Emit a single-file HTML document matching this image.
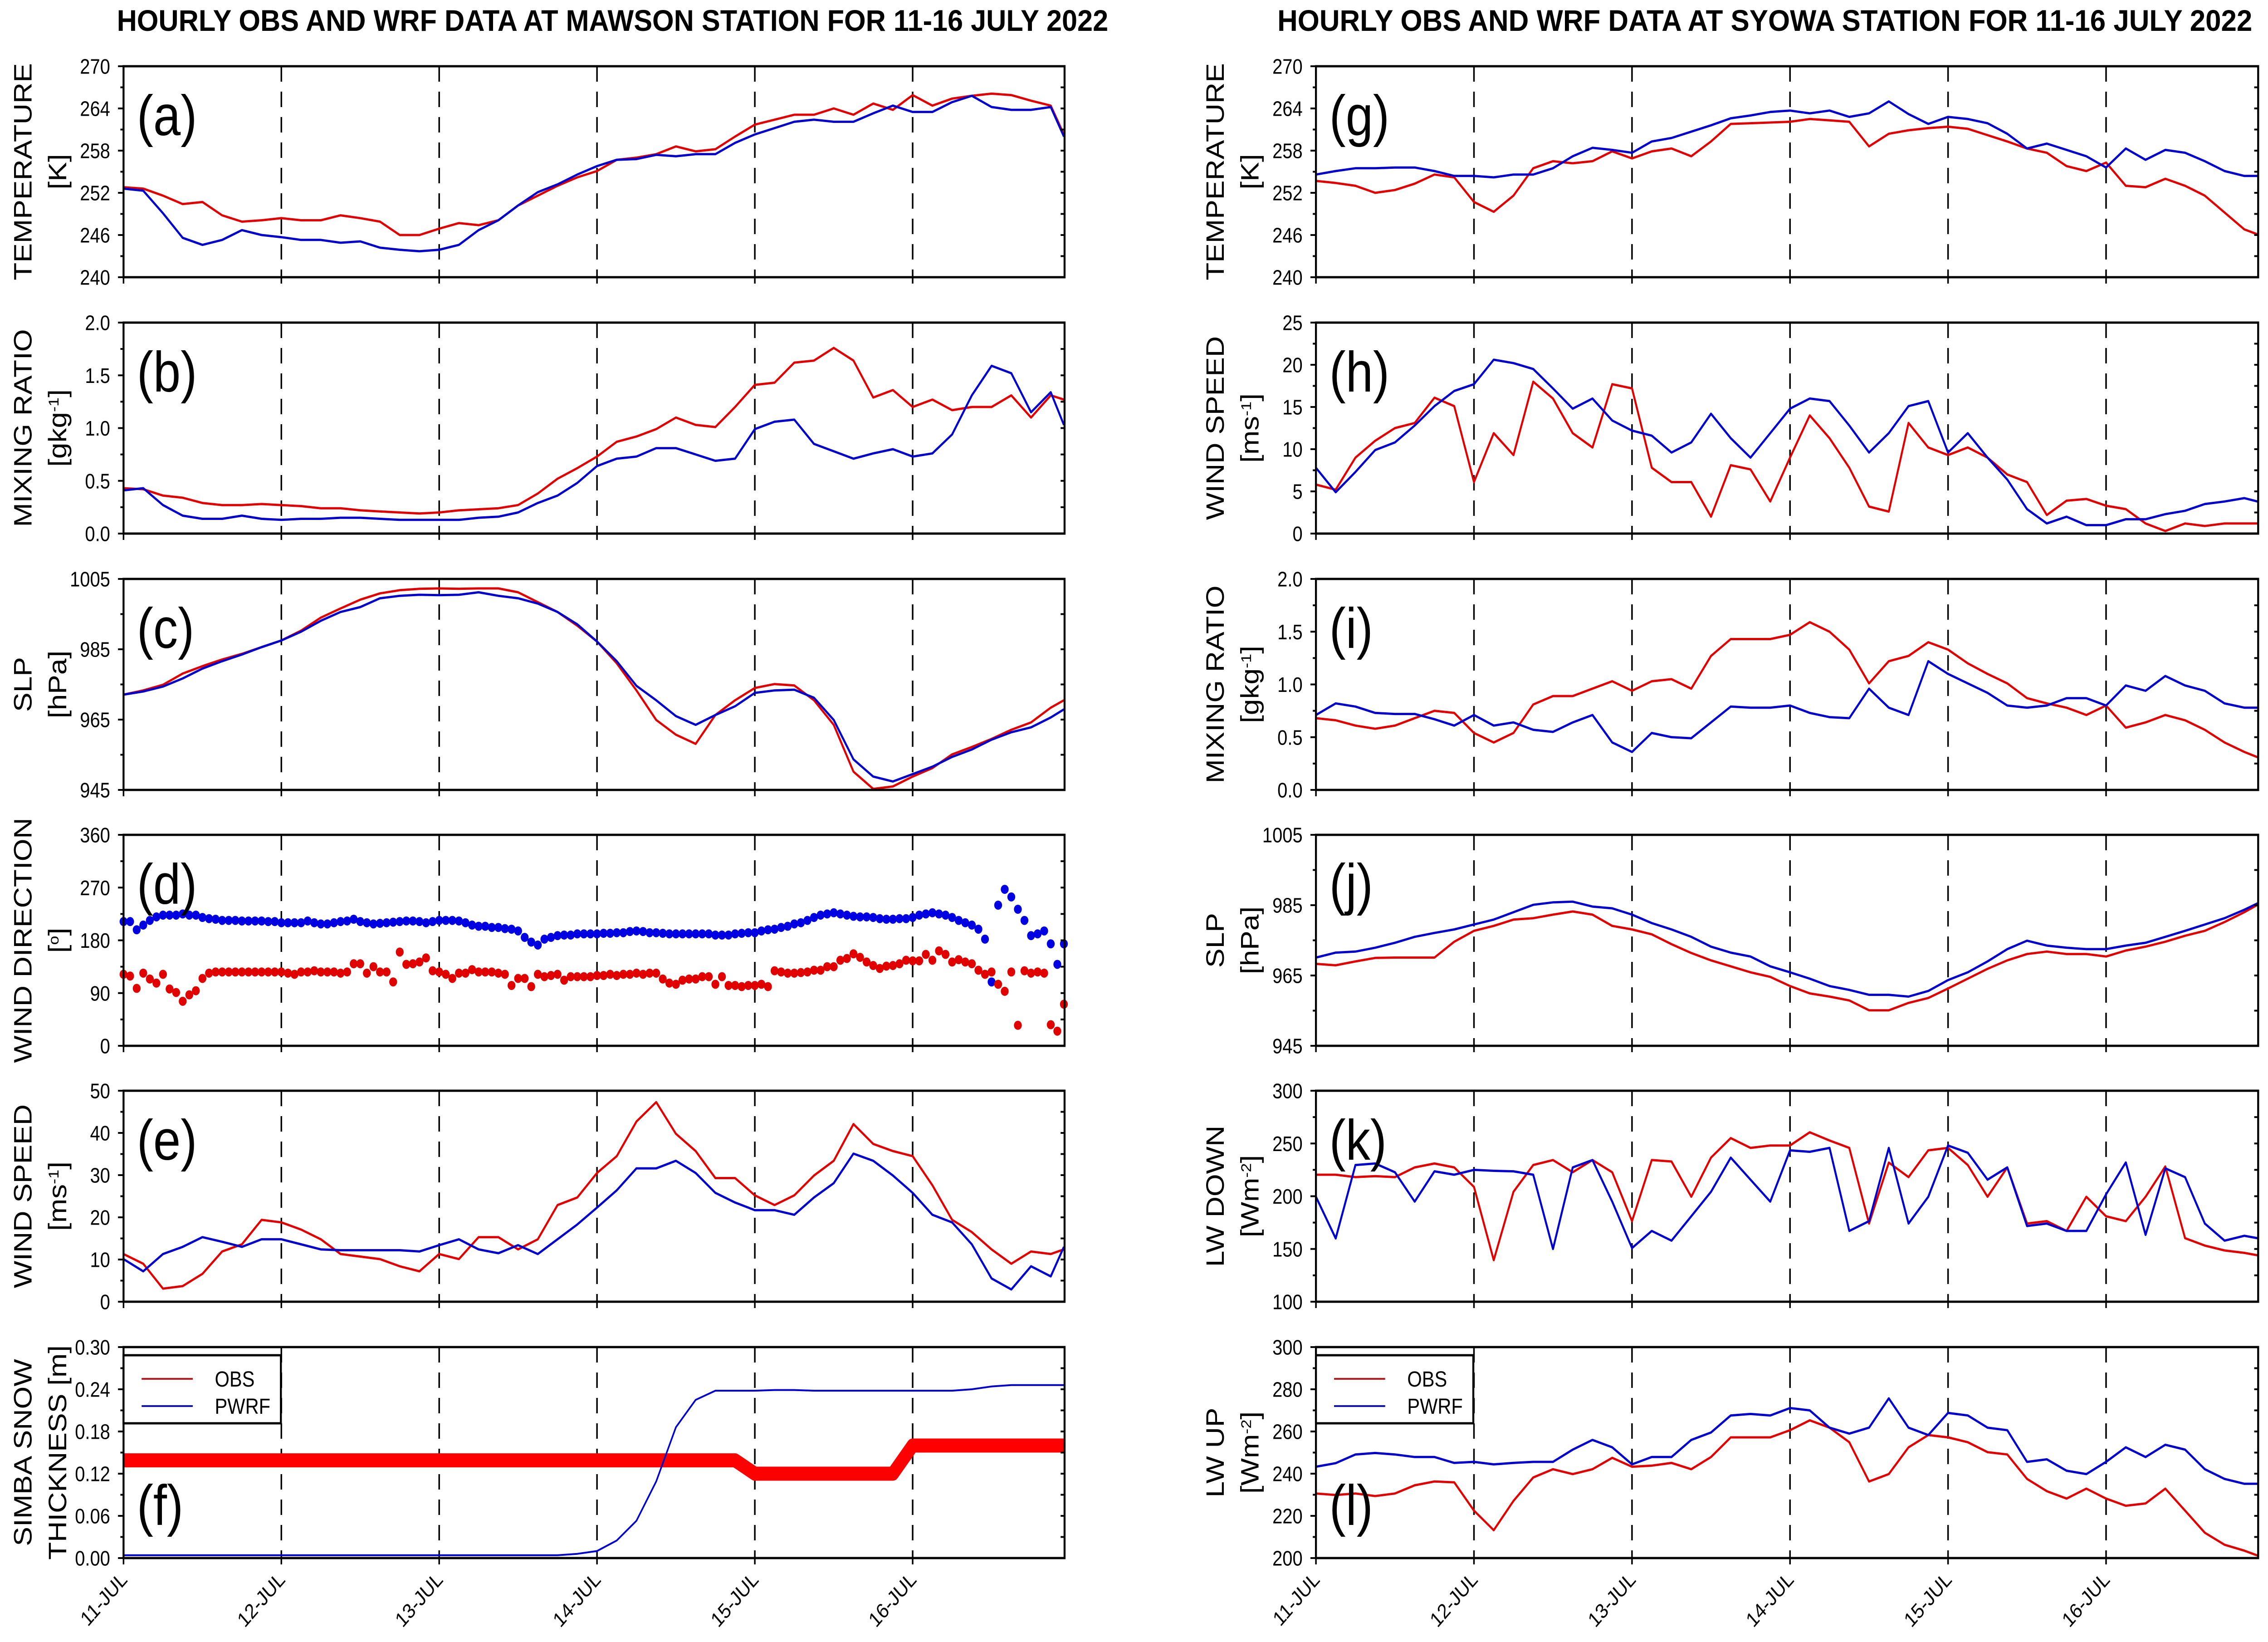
<!DOCTYPE html>
<html><head><meta charset="utf-8"><title>Hourly OBS and WRF data at Mawson and Syowa</title>
<style>html,body{margin:0;padding:0;background:#fff;overflow:hidden;width:100%;height:100%;}svg{display:block;width:100vw;height:100vh;font-family:"Liberation Sans",Arial,sans-serif;}</style>
</head><body>
<svg id="fig" xmlns="http://www.w3.org/2000/svg" viewBox="0 0 5765 3619" preserveAspectRatio="none">
<rect x="0" y="0" width="5765" height="3619" fill="#fff"/>
<text x="1557" y="68" text-anchor="middle" font-size="66" font-weight="bold" textLength="2520" lengthAdjust="spacingAndGlyphs">HOURLY OBS  AND WRF DATA AT MAWSON STATION FOR 11-16 JULY 2022</text>
<text x="4486" y="68" text-anchor="middle" font-size="66" font-weight="bold" textLength="2478" lengthAdjust="spacingAndGlyphs">HOURLY OBS AND WRF DATA AT SYOWA STATION FOR 11-16 JULY 2022</text>
<g id="plots"></g>
</svg>
<script>
// ---------- data (3-hourly samples: hours 0,3,...,141 and 143) ----------
const dayLabels = ["11-JUL","12-JUL","13-JUL","14-JUL","15-JUL","16-JUL"];
const tempMawObs = [252.8,252.6,251.6,250.4,250.7,248.8,247.9,248.1,248.4,248.1,248.1,248.8,248.4,247.9,246.0,246.0,246.9,247.7,247.4,248.1,250.2,251.6,253.0,254.2,255.1,256.7,257.0,257.5,258.6,257.9,258.2,260.0,261.7,262.4,263.1,263.1,264.0,263.1,264.7,263.8,265.9,264.4,265.4,265.8,266.1,265.9,265.1,264.4,260.3];
const tempMawWrf = [252.6,252.3,249.1,245.6,244.6,245.3,246.7,246.0,245.7,245.3,245.3,244.9,245.1,244.2,243.9,243.7,243.9,244.6,246.7,248.1,250.2,252.1,253.2,254.6,255.8,256.7,256.8,257.4,257.2,257.5,257.5,259.1,260.3,261.2,262.1,262.4,262.1,262.1,263.3,264.4,263.5,263.5,264.9,265.8,264.2,263.8,263.8,264.2,260.0];
const mixMawObs = [0.43,0.42,0.36,0.34,0.29,0.27,0.27,0.28,0.27,0.26,0.24,0.24,0.22,0.21,0.20,0.19,0.20,0.22,0.23,0.24,0.27,0.38,0.52,0.62,0.73,0.87,0.92,0.99,1.10,1.03,1.01,1.20,1.41,1.43,1.62,1.64,1.76,1.64,1.29,1.36,1.20,1.27,1.17,1.20,1.20,1.31,1.10,1.31,1.27];
const mixMawWrf = [0.41,0.43,0.27,0.17,0.14,0.14,0.17,0.14,0.13,0.14,0.14,0.15,0.15,0.14,0.13,0.13,0.13,0.13,0.15,0.16,0.20,0.29,0.36,0.48,0.64,0.71,0.73,0.81,0.81,0.75,0.69,0.71,0.99,1.06,1.08,0.85,0.78,0.71,0.76,0.80,0.73,0.76,0.94,1.31,1.59,1.52,1.15,1.34,1.03];
const slpMawObs = [972.1,973.3,974.9,978.1,980.2,982.1,983.7,985.6,987.5,990.3,994.0,996.6,999.1,1000.9,1001.8,1002.2,1002.3,1002.2,1002.3,1002.3,1001.2,998.4,995.6,991.7,987.2,981.0,973.3,964.9,960.7,958.1,966.3,970.5,974.0,975.1,974.7,970.5,963.5,950.2,945.3,946.0,948.8,951.2,955.1,957.2,959.5,962.1,964.2,968.4,970.5];
const slpMawWrf = [972.1,973.0,974.4,976.7,979.5,981.6,983.5,985.6,987.5,990.0,993.1,995.6,997.0,999.5,1000.2,1000.5,1000.4,1000.5,1001.2,1000.2,999.5,998.0,995.6,992.1,987.2,981.6,974.6,970.5,966.0,963.5,966.3,968.8,972.6,973.3,973.5,971.2,964.9,953.7,948.8,947.4,949.5,951.6,954.4,956.5,959.3,961.4,962.8,965.6,967.9];
// wind direction: hourly values, hours 0..143
const wdirMawWrf = [212,212,198,206,214,220,223,223,223,225,223,223,219,217,216,214,214,214,213,213,213,213,212,212,210,210,210,210,213,210,208,208,210,212,213,216,212,210,208,209,210,211,212,213,213,212,210,212,214,214,214,213,210,206,204,204,202,202,200,199,196,185,177,172,182,185,188,189,189,191,191,191,191,192,192,193,193,195,196,195,193,193,192,191,191,191,191,191,191,191,189,189,189,191,192,193,193,196,198,199,202,204,208,210,214,219,223,225,227,225,223,221,220,220,219,217,216,216,217,217,219,223,225,227,225,223,219,214,210,206,199,182,109,240,267,254,233,214,188,191,196,174,139,174];
const wdirMawObs = [122,119,98,124,114,107,122,97,91,76,87,94,115,124,126,126,126,126,126,126,126,126,126,126,126,124,122,126,126,128,126,126,126,124,126,140,140,124,135,126,126,109,160,139,140,143,150,128,126,122,115,124,124,130,126,126,126,124,122,103,115,115,101,122,118,120,122,112,118,118,118,118,120,120,122,120,122,122,124,122,124,124,114,107,105,112,114,114,118,118,105,118,103,103,101,103,103,105,101,128,126,124,124,125,126,129,129,135,135,146,149,157,151,143,137,132,136,137,140,146,145,145,156,146,162,156,143,147,143,140,129,122,126,105,93,126,35,128,124,126,124,36,25,71];
const wspdMawObs = [11.3,9.0,3.1,3.7,6.6,11.9,13.6,19.4,18.8,17.1,14.8,11.3,10.7,10.1,8.4,7.2,11.3,10.1,15.3,15.3,12.4,14.8,22.9,24.7,30.5,34.5,42.7,47.3,39.8,35.7,29.3,29.3,25.2,22.9,25.2,29.9,33.4,42.1,37.4,35.7,34.5,27.6,19.4,16.5,12.4,9.0,11.9,11.3,12.4];
const wspdMawWrf = [10.1,7.2,11.3,13.0,15.3,14.2,13.0,14.8,14.8,13.6,12.4,12.2,12.2,12.2,12.2,11.9,13.4,14.8,12.4,11.5,13.4,11.3,14.8,18.3,22.3,26.4,31.6,31.6,33.4,30.5,25.8,23.5,21.7,21.7,20.6,24.7,28.1,35.1,33.4,29.9,25.8,20.6,18.8,13.6,5.5,2.9,8.4,6.0,13.0];
const snowObs = [0.139,0.139,0.139,0.139,0.139,0.139,0.139,0.139,0.139,0.139,0.139,0.139,0.139,0.139,0.139,0.139,0.139,0.139,0.139,0.139,0.139,0.139,0.139,0.139,0.139,0.139,0.139,0.139,0.139,0.139,0.139,0.139,0.120,0.120,0.120,0.120,0.120,0.120,0.120,0.120,0.160,0.160,0.160,0.160,0.160,0.160,0.160,0.160,0.160];
const snowWrf = [0.004,0.004,0.004,0.004,0.004,0.004,0.004,0.004,0.004,0.004,0.004,0.004,0.004,0.004,0.004,0.004,0.004,0.004,0.004,0.004,0.004,0.004,0.004,0.006,0.010,0.025,0.053,0.109,0.186,0.225,0.238,0.238,0.238,0.239,0.239,0.238,0.238,0.238,0.238,0.238,0.238,0.238,0.238,0.240,0.244,0.246,0.246,0.246,0.246];
const tempSyoObs = [253.7,253.4,253.0,252.0,252.4,253.3,254.6,254.2,250.7,249.3,251.6,255.5,256.5,256.2,256.5,257.9,256.9,257.9,258.3,257.2,259.3,261.8,261.9,262.0,262.1,262.5,262.3,262.1,258.6,260.4,260.9,261.2,261.4,261.1,260.2,259.3,258.3,257.7,255.8,255.1,256.3,253.0,252.8,254.0,253.0,251.6,249.2,246.8,246.1];
const tempSyoWrf = [254.6,255.1,255.5,255.5,255.6,255.6,255.1,254.4,254.4,254.2,254.6,254.6,255.5,257.2,258.4,258.1,257.7,259.3,259.8,260.7,261.6,262.6,263.0,263.5,263.7,263.3,263.7,262.8,263.3,265.0,263.2,261.8,262.8,262.5,261.9,260.4,258.3,259.0,258.1,257.2,255.6,258.3,256.7,258.1,257.7,256.5,255.1,254.4,254.4];
const wspdSyoObs = [5.8,5.2,9.0,11.0,12.5,13.1,16.1,15.1,6.1,11.9,9.3,18.0,16.0,11.9,10.2,17.7,17.2,7.8,6.1,6.1,2.0,8.1,7.6,3.8,9.0,14.0,11.3,7.8,3.2,2.6,13.1,10.2,9.3,10.2,9.0,7.0,6.1,2.2,3.9,4.1,3.3,2.9,1.2,0.3,1.2,0.9,1.2,1.2,1.2];
const wspdSyoWrf = [7.8,4.9,7.3,9.9,10.8,12.8,15.1,16.9,17.7,20.6,20.2,19.5,17.2,14.8,16.0,13.4,12.2,11.6,9.6,10.8,14.2,11.3,9.0,11.9,14.8,16.0,15.7,12.8,9.6,11.9,15.1,15.7,9.6,11.9,9.0,6.4,2.9,1.2,2.0,1.0,1.0,1.7,1.7,2.3,2.7,3.5,3.8,4.2,3.8];
const mixSyoObs = [0.68,0.66,0.61,0.58,0.61,0.68,0.75,0.73,0.54,0.45,0.54,0.81,0.89,0.89,0.96,1.03,0.94,1.03,1.05,0.96,1.27,1.43,1.43,1.43,1.47,1.59,1.50,1.33,1.01,1.22,1.27,1.40,1.33,1.20,1.10,1.01,0.87,0.82,0.78,0.71,0.80,0.59,0.64,0.71,0.66,0.57,0.45,0.36,0.31];
const mixSyoWrf = [0.71,0.82,0.79,0.73,0.72,0.72,0.67,0.61,0.71,0.61,0.64,0.57,0.55,0.64,0.71,0.45,0.36,0.54,0.50,0.49,0.64,0.79,0.78,0.78,0.80,0.73,0.69,0.68,0.96,0.78,0.71,1.22,1.10,1.01,0.92,0.80,0.78,0.80,0.87,0.87,0.80,0.99,0.94,1.08,0.99,0.94,0.82,0.78,0.78];
const slpSyoObs = [968.3,967.9,969.0,970.0,970.1,970.1,970.1,974.6,977.7,979.1,980.9,981.3,982.3,983.2,982.3,979.1,978.1,976.7,973.9,971.4,969.3,967.6,965.9,964.6,962.0,959.9,959.0,957.9,955.1,955.1,957.2,958.6,961.3,964.1,966.9,969.3,971.1,971.8,971.1,971.1,970.4,972.1,973.2,974.6,976.3,977.7,980.2,983.0,985.1];
const slpSyoWrf = [970.1,971.5,971.8,972.9,974.3,976.0,977.1,978.1,979.5,980.9,983.0,985.1,985.8,986.0,984.6,984.1,982.3,979.9,978.1,976.0,973.2,971.5,970.4,967.6,965.9,964.1,962.0,960.9,959.5,959.5,959.0,960.6,963.7,965.9,969.0,972.5,974.9,973.5,972.9,972.5,972.5,973.5,974.3,976.0,977.7,979.5,981.3,983.7,985.5];
const lwdSyoObs = [220.4,220.4,218.1,219.0,218.1,227.3,231.0,227.3,208.8,139.4,204.2,229.6,234.3,222.7,234.3,222.7,176.4,234.3,232.9,199.5,236.6,255.1,245.8,248.1,248.1,260.6,252.8,245.8,174.1,231.9,218.1,243.5,245.8,229.6,199.5,227.3,174.1,176.4,167.1,199.5,181.0,176.4,199.5,228.2,160.2,153.2,148.6,146.3,144.0];
const lwdSyoWrf = [199.5,160.0,229.6,231.0,222.7,194.9,223.6,220.4,225.0,224.1,223.6,220.4,150.0,227.3,234.3,194.9,150.9,167.1,157.9,181.0,204.2,236.6,215.7,194.9,243.5,242.1,245.8,167.1,176.4,245.8,174.1,199.5,248.1,241.2,215.7,227.3,171.8,174.1,167.1,167.1,201.8,232.0,163.4,226.4,218.1,174.1,157.9,162.5,160.2];
const lwuSyoObs = [230.6,229.9,230.6,229.4,230.6,234.5,236.3,235.9,222.5,213.2,227.1,238.2,242.1,239.8,242.1,247.5,243.3,243.8,245.1,242.1,247.9,257.2,257.2,257.2,260.6,265.3,261.8,254.9,236.3,239.8,252.5,258.3,257.2,254.9,250.2,249.1,237.5,231.7,228.2,232.9,228.2,224.8,225.9,232.9,222.5,212.0,206.3,203.5,201.2];
const lwuSyoWrf = [243.3,245.0,249.1,249.8,249.1,247.9,247.9,245.1,245.6,244.4,245.1,245.6,245.6,251.4,256.0,252.5,244.4,247.9,247.9,256.0,259.5,267.6,268.3,267.6,271.1,270.0,261.8,259.0,261.8,275.7,261.8,258.3,268.8,267.6,261.8,260.6,245.6,246.8,241.4,239.8,245.6,252.5,247.9,253.7,251.4,242.1,237.5,235.2,235.2];

// ---------- layout ----------
const NS = "http://www.w3.org/2000/svg";
const root = document.getElementById("plots");
const COLS = [{x0:314, x1:2706}, {x0:3345, x1:5740}];
const ROWS = [146, 711, 1276, 1840, 2404, 2969];
const PH = 465;
const HMAX = 143.1;
const RED = "#e00000", BLUE = "#0000cc";

function el(tag, attrs, parent) {
  const e = document.createElementNS(NS, tag);
  for (const k in attrs) e.setAttribute(k, attrs[k]);
  (parent || root).appendChild(e);
  return e;
}
function sampleHours(n) {
  const h = [];
  for (let i = 0; i < n; i++) h.push(i === n - 1 && n === 49 ? 143 : (n === 49 ? i * 3 : i));
  return h;
}

function panel(p) {
  const c = COLS[p.col], top = ROWS[p.row], bot = top + PH;
  const g = el("g", {});
  
  
  const xs = h => c.x0 + (c.x1 - c.x0) * h / HMAX;
  const ys = v => bot - (v - p.min) / (p.max - p.min) * PH;

  for (let d = 1; d <= 5; d++) {
    const ln = el("line", {x1: xs(d*24), x2: xs(d*24), y1: top, y2: bot, stroke: "#000", "stroke-width": 4, "stroke-dasharray": "34 22"}, g);
    
    
  }
  const sg = el("g", {}, g);
  
  
  p.series.forEach(s => {
    const hrs = sampleHours(s.data.length);
    if (s.dots) {
      s.data.forEach((v, i) => {
        const dot = el("circle", {cx: xs(hrs[i]), cy: ys(v), r: 10, fill: s.color}, sg);
        
        
      });
    } else {
      const pts = s.data.map((v, i) => xs(hrs[i]).toFixed(1) + "," + ys(v).toFixed(1)).join(" ");
      const pl = el("polyline", {points: pts, fill: "none", stroke: s.color, "stroke-width": s.width || 5, "stroke-linejoin": "round"}, sg);
      
      
    }
  });
  const fr = el("rect", {x: c.x0, y: top, width: c.x1 - c.x0, height: PH, fill: "none", stroke: "#000", "stroke-width": 5}, g);
  
  
  const yg = el("g", {}, g);
  
  
  for (let k = 0; k <= Math.round((p.max - p.min) / p.minor); k++) {
    const v = p.min + k * p.minor, y = ys(v);
    const major = Math.abs(((v - p.min) / p.step) - Math.round((v - p.min) / p.step)) < 1e-6;
    el("line", {x1: c.x0 - (major ? 14 : 8), x2: c.x0, y1: y, y2: y, stroke: "#000", "stroke-width": 4}, yg);
    el("line", {x1: c.x1, x2: c.x1 - 10, y1: y, y2: y, stroke: "#000", "stroke-width": 4}, yg);
    if (major) {
      const t = el("text", {x: c.x0 - 34, y: y, dy: "0.36em", "text-anchor": "end", "font-size": 46}, yg);
      t.textContent = v.toFixed(p.dec);
      
      
    }
  }
  for (let d = 0; d <= 5; d++) {
    el("line", {x1: xs(d*24), x2: xs(d*24), y1: bot, y2: bot + 14, stroke: "#000", "stroke-width": 4}, g);
    if (p.row === 5) {
      const tx = xs(d*24) + 12, ty = bot + 50;
      const t = el("text", {x: 0, y: 0, "text-anchor": "end", "font-size": 46, transform: "translate(" + tx + "," + ty + ") rotate(-45)"}, g);
      t.textContent = dayLabels[d];
      
      
    }
  }
  const cy = top + PH / 2;
  p.title.forEach((line, li) => {
    const cx = c.x0 - (li === 0 ? 257 : 169);
    const t = el("text", {x: 0, y: 0, dy: "0.36em", "text-anchor": "middle", "font-size": 64, transform: "translate(" + cx + "," + cy + ") rotate(-90)"}, g);
    
    
    line.forEach(part => {
      const ts = el("tspan", {}, t);
      if (part.sup) { ts.setAttribute("baseline-shift", "super"); ts.setAttribute("font-size", 36); }
      ts.textContent = part.t;
    });
  });
  const lab = el("text", {x: c.x0 + 34, y: top + (p.labLow ? 392 : 152), "font-size": 125}, g);
  lab.textContent = "(" + p.id + ")";
  
  
  if (p.legend) {
    const lg = el("g", {}, g);
    
    
    el("rect", {x: c.x0, y: top + 18, width: 400, height: 150, fill: "#fff", stroke: "#000", "stroke-width": 5}, lg);
    [["OBS", "#c01818", 70], ["PWRF", "#1010c8", 130]].forEach(([nm, col, dy]) => {
      el("line", {x1: c.x0 + 46, x2: c.x0 + 176, y1: top + dy, y2: top + dy, stroke: col, "stroke-width": 4}, lg);
      const t = el("text", {x: c.x0 + 232, y: top + dy + 17, "font-size": 48}, lg);
      t.textContent = nm;
      
      
    });
  }
}

const T = s => [{t: s}];
panel({id:"a", col:0, row:0, min:240, max:270, step:6, minor:3, dec:0, title:[T("TEMPERATURE"), T("[K]")],
  series:[{name:"obs-temperature", data:tempMawObs, color:RED},{name:"wrf-temperature", data:tempMawWrf, color:BLUE}]});
panel({id:"b", col:0, row:1, min:0, max:2, step:0.5, minor:0.25, dec:1, title:[T("MIXING RATIO"), [{t:"[gkg"},{t:"-1",sup:true},{t:"]"}]],
  series:[{name:"obs-mixing-ratio", data:mixMawObs, color:RED},{name:"wrf-mixing-ratio", data:mixMawWrf, color:BLUE}]});
panel({id:"c", col:0, row:2, min:945, max:1005, step:20, minor:10, dec:0, title:[T("SLP"), T("[hPa]")],
  series:[{name:"obs-slp", data:slpMawObs, color:RED},{name:"wrf-slp", data:slpMawWrf, color:BLUE}]});
panel({id:"d", col:0, row:3, min:0, max:360, step:90, minor:45, dec:0, title:[T("WIND DIRECTION"), [{t:"["},{t:"o",sup:true},{t:"]"}]],
  series:[{name:"wrf-wind-direction", data:wdirMawWrf, color:"#0000e0", dots:true},{name:"obs-wind-direction", data:wdirMawObs, color:"#e00000", dots:true}]});
panel({id:"e", col:0, row:4, min:0, max:50, step:10, minor:5, dec:0, title:[T("WIND SPEED"), [{t:"[ms"},{t:"-1",sup:true},{t:"]"}]],
  series:[{name:"obs-wind-speed", data:wspdMawObs, color:RED},{name:"wrf-wind-speed", data:wspdMawWrf, color:BLUE}]});
panel({id:"f", col:0, row:5, min:0, max:0.30, step:0.06, minor:0.03, dec:2, labLow:true, legend:true, title:[T("SIMBA SNOW"), T("THICKNESS [m]")],
  series:[{name:"obs-snow-thickness", data:snowObs, color:"#ff0000", width:31},{name:"wrf-snow-thickness", data:snowWrf, color:BLUE, width:4}]});
panel({id:"g", col:1, row:0, min:240, max:270, step:6, minor:3, dec:0, title:[T("TEMPERATURE"), T("[K]")],
  series:[{name:"obs-temperature", data:tempSyoObs, color:RED},{name:"wrf-temperature", data:tempSyoWrf, color:BLUE}]});
panel({id:"h", col:1, row:1, min:0, max:25, step:5, minor:2.5, dec:0, title:[T("WIND SPEED"), [{t:"[ms"},{t:"-1",sup:true},{t:"]"}]],
  series:[{name:"obs-wind-speed", data:wspdSyoObs, color:RED},{name:"wrf-wind-speed", data:wspdSyoWrf, color:BLUE}]});
panel({id:"i", col:1, row:2, min:0, max:2, step:0.5, minor:0.25, dec:1, title:[T("MIXING RATIO"), [{t:"[gkg"},{t:"-1",sup:true},{t:"]"}]],
  series:[{name:"obs-mixing-ratio", data:mixSyoObs, color:RED},{name:"wrf-mixing-ratio", data:mixSyoWrf, color:BLUE}]});
panel({id:"j", col:1, row:3, min:945, max:1005, step:20, minor:10, dec:0, title:[T("SLP"), T("[hPa]")],
  series:[{name:"obs-slp", data:slpSyoObs, color:RED},{name:"wrf-slp", data:slpSyoWrf, color:BLUE}]});
panel({id:"k", col:1, row:4, min:100, max:300, step:50, minor:25, dec:0, title:[T("LW DOWN"), [{t:"[Wm"},{t:"-2",sup:true},{t:"]"}]],
  series:[{name:"obs-lw-down", data:lwdSyoObs, color:RED},{name:"wrf-lw-down", data:lwdSyoWrf, color:BLUE}]});
panel({id:"l", col:1, row:5, min:200, max:300, step:20, minor:10, dec:0, labLow:true, legend:true, title:[T("LW UP"), [{t:"[Wm"},{t:"-2",sup:true},{t:"]"}]],
  series:[{name:"obs-lw-up", data:lwuSyoObs, color:RED},{name:"wrf-lw-up", data:lwuSyoWrf, color:BLUE}]});
</script>
</body></html>
